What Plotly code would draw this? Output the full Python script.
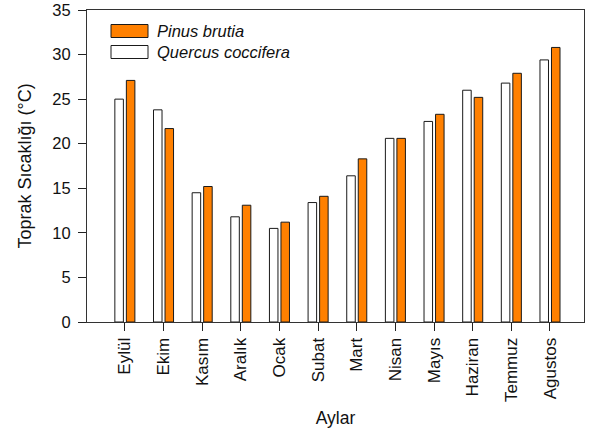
import plotly.graph_objects as go

months = ["Eylül", "Ekim", "Kasım", "Aralık", "Ocak", "Subat", "Mart",
          "Nisan", "Mayıs", "Haziran", "Temmuz", "Agustos"]
quercus = [25.0, 23.8, 14.5, 11.8, 10.5, 13.4, 16.4, 20.6, 22.5, 26.0, 26.8, 29.4]
pinus = [27.1, 21.7, 15.2, 13.1, 11.2, 14.1, 18.3, 20.6, 23.3, 25.2, 27.9, 30.8]
y_ticks = [0, 5, 10, 15, 20, 25, 30, 35]

FONT = "Liberation Sans, Arial, sans-serif"
ORANGE = "#FF8000"
EDGE = "#1a1a1a"

fig = go.Figure()
fig.add_trace(go.Bar(x=months, y=quercus, name="Quercus coccifera",
                     marker=dict(color="white", line=dict(color=EDGE, width=1)),
                     showlegend=False))
fig.add_trace(go.Bar(x=months, y=pinus, name="Pinus brutia",
                     marker=dict(color=ORANGE, line=dict(color=EDGE, width=1)),
                     showlegend=False))

# legend drawn manually (wide swatches as in the original)
legend_items = [("Pinus brutia", ORANGE, 24.5, 37.5), ("Quercus coccifera", "white", 45.5, 58.5)]
shapes = []
annotations = []
for label, col, y0, y1 in legend_items:
    shapes.append(dict(type="rect", xref="paper", yref="paper",
                       x0=(111 - 87) / 497, x1=(148 - 87) / 497,
                       y0=(322 - y1) / 312, y1=(322 - y0) / 312,
                       fillcolor=col, line=dict(color=EDGE, width=1)))
    annotations.append(dict(xref="paper", yref="paper",
                            x=(155 - 87) / 497, y=(322 - (y0 + y1) / 2) / 312,
                            text="<i>" + label + "</i>", showarrow=False,
                            xanchor="left", yanchor="middle",
                            font=dict(family=FONT, size=16.5, color="#111")))

fig.update_layout(
    width=595, height=432,
    margin=dict(l=87, r=11, t=10, b=110, autoexpand=False),
    paper_bgcolor="white", plot_bgcolor="white",
    barmode="group", bargap=0.404, bargroupgap=0.26,
    font=dict(family=FONT, size=15, color="#111"),
    shapes=shapes, annotations=annotations,
    xaxis=dict(
        range=[-0.98, 11.88], tickangle=-90, ticks="outside", ticklen=8,
        tickcolor="#222", tickwidth=1, showline=True, linecolor="#333", linewidth=1,
        mirror=True, showgrid=False, tickfont=dict(size=17), automargin=False,
        title=dict(text="Aylar", font=dict(size=17.5), standoff=10),
    ),
    yaxis=dict(
        range=[0, 35], tickvals=y_ticks, ticks="outside", ticklen=8,
        tickcolor="#222", tickwidth=1, showline=True, linecolor="#333", linewidth=1,
        mirror=True, showgrid=False, zeroline=False, tickfont=dict(size=16.5),
        ticklabelstandoff=4, automargin=False,
        title=dict(text="Toprak Sıcaklığı (°C)", font=dict(size=18), standoff=16),
    ),
)

fig.write_html("out.html", post_script="document.body.style.margin='0';",
               config={"displayModeBar": False})
